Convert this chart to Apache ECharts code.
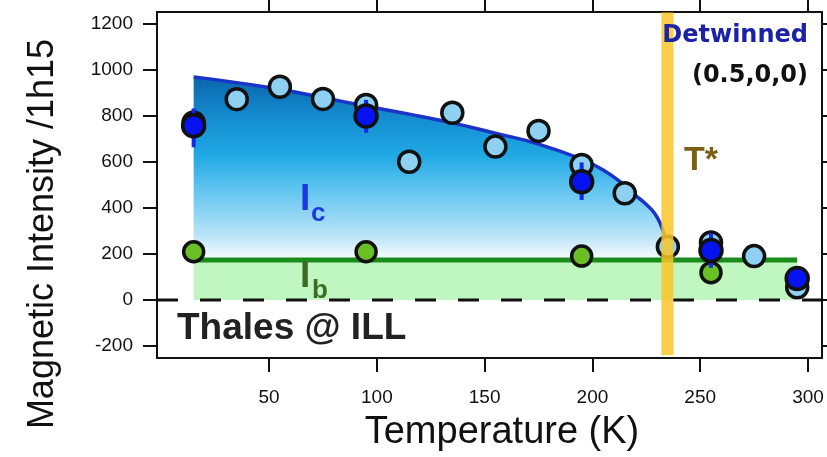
<!DOCTYPE html>
<html>
<head>
<meta charset="utf-8">
<script src="https://cdn.jsdelivr.net/npm/echarts@6/dist/echarts.min.js"></script>
<style>html,body{margin:0;padding:0;background:#fff}#chart{width:827px;height:457px}</style>
</head>
<body>
<div id="chart"></div>
<script>
// ---- data ----
const tempTicks = [50, 100, 150, 200, 250, 300];
const intensityTicks = [-200, 0, 200, 400, 600, 800, 1000, 1200];

// Ic order-parameter fit curve (T, intensity)
const icFitCurve = [[15, 970], [35, 945], [55, 916], [75, 880], [95, 843], [115, 808], [135, 770], [155, 725], [175, 678], [195, 612], [205, 565], [215, 498], [220, 455], [225, 415], [229, 375], [232, 320], [234, 260], [235, 190]];
// Ib constant level
const ibLevel = [[15, 174], [295, 174]];
// Ic open (light blue) points
const icOpen = [[15, 772], [35, 873], [55, 927], [75, 874], [95, 848], [115, 601], [135, 814], [155, 667], [175, 735], [195, 587], [215, 464], [235, 232], [255, 250], [275, 191], [295, 55]];
// Ic detwinned (blue) points and their error bars [T, low, high]
const icDetwinned = [[15, 758], [95, 800], [195, 514], [255, 215], [295, 94]];
const icErrors = [[15, 664, 833], [95, 727, 870], [195, 435, 598], [255, 140, 290], [295, 70, 120]];
// Ib (green) points
const ibPoints = [[15, 210], [95, 210], [195, 191], [255, 119]];
// T* marker and zero reference
const tStar = 234.8;
const tStarSpan = [[tStar, -240], [tStar, 1250]];
const zeroLine = [[-2, 0], [306.5, 0]];

const chart = echarts.init(document.getElementById('chart'), null, {renderer: 'canvas'});

const axisCommonX = {
  type: 'value', min: -2, max: 306.5,
  axisLine: {show: true, onZero: false, lineStyle: {color: '#111', width: 2}},
  axisTick: {show: true, inside: false, length: 14, customValues: tempTicks, lineStyle: {color: '#111', width: 2}},
  splitLine: {show: false}
};
const axisCommonY = {
  type: 'value', min: -252, max: 1252,
  axisLine: {show: true, onZero: false, lineStyle: {color: '#111', width: 2}},
  axisTick: {show: true, inside: false, length: 14, customValues: intensityTicks, lineStyle: {color: '#111', width: 2}},
  splitLine: {show: false}
};
const plain = function (v) { return String(v); };

const option = {
  animation: false,
  backgroundColor: '#fff',
  grid: {left: 157, right: 5, top: 12, bottom: 99, containLabel: false},
  xAxis: [
    Object.assign({}, axisCommonX, {position: 'bottom',
      axisLabel: {show: true, customValues: tempTicks, formatter: plain, margin: 30, fontSize: 19, color: '#111', fontFamily: 'Liberation Sans, Arial, sans-serif'}}),
    Object.assign({}, axisCommonX, {position: 'top', axisLabel: {show: false}})
  ],
  yAxis: [
    Object.assign({}, axisCommonY, {position: 'left',
      axisLabel: {show: true, customValues: intensityTicks, formatter: plain, margin: 24, fontSize: 19, color: '#111', fontFamily: 'Liberation Sans, Arial, sans-serif'}}),
    Object.assign({}, axisCommonY, {position: 'right', axisLabel: {show: false}})
  ],
  series: [
    {
      name: 'Ic fit', type: 'line', data: icFitCurve, showSymbol: false, smooth: true, z: 1,
      lineStyle: {color: '#1b34c8', width: 3.5},
      areaStyle: {
        opacity: 1,
        color: new echarts.graphic.LinearGradient(0, 0, 0, 1, [
          {offset: 0, color: '#0a66ad'},
          {offset: 0.2, color: '#1590d2'},
          {offset: 0.35, color: '#20a8e4'},
          {offset: 0.5, color: '#5ec4f0'},
          {offset: 0.7, color: '#b5e2f7'},
          {offset: 0.8, color: '#eef8fd'},
          {offset: 1, color: '#ffffff'}
        ])
      }
    },
    {
      name: 'Ib level', type: 'line', data: ibLevel, showSymbol: false, z: 2,
      lineStyle: {color: '#1a8c1a', width: 5},
      areaStyle: {color: '#c0f7c0', opacity: 1}
    },
    {
      name: 'zero', type: 'line', data: zeroLine, showSymbol: false, z: 3,
      lineStyle: {color: '#111', width: 3, type: [21, 22]}
    },
    {
      name: 'Ic', type: 'scatter', data: icOpen, z: 4, symbol: 'circle', symbolSize: 21,
      itemStyle: {color: '#8dd0f2', borderColor: '#111', borderWidth: 3.5, opacity: 1}
    },
    {
      name: 'Ib', type: 'scatter', data: ibPoints, z: 5, symbol: 'circle', symbolSize: 20,
      itemStyle: {color: '#6abf25', borderColor: '#111', borderWidth: 3.5, opacity: 1}
    },
    {
      name: 'err', type: 'custom', data: icErrors, z: 6,
      encode: {x: 0, y: [1, 2]},
      renderItem: function (params, api) {
        const x = api.value(0);
        const p1 = api.coord([x, api.value(1)]);
        const p2 = api.coord([x, api.value(2)]);
        return {type: 'line', shape: {x1: p1[0], y1: p1[1], x2: p2[0], y2: p2[1]}, style: {stroke: '#1428f0', lineWidth: 4}};
      }
    },
    {
      name: 'Ic detwinned', type: 'scatter', data: icDetwinned, z: 7, symbol: 'circle', symbolSize: 22,
      itemStyle: {color: '#0612f0', borderColor: '#111', borderWidth: 3.5, opacity: 1}
    },
    {
      name: 'T*', type: 'line', data: tStarSpan, showSymbol: false, z: 8,
      lineStyle: {color: 'rgba(250,198,40,0.85)', width: 12, cap: 'butt'}
    }
  ],
  graphic: [
    {type: 'text', z: 100, style: {text: 'Detwinned', x: 808, y: 36, align: 'right', verticalAlign: 'middle', font: 'bold 24px "DejaVu Sans"', fill: '#1c22a6'}},
    {type: 'text', z: 100, style: {text: '(0.5,0,0)', x: 808, y: 76, align: 'right', verticalAlign: 'middle', font: 'bold 24px "DejaVu Sans"', fill: '#111'}},
    {type: 'text', z: 100, style: {text: 'T*', x: 684, y: 161, align: 'left', verticalAlign: 'middle', font: 'bold 34px "Liberation Sans"', fill: '#7b5f12'}},
    {type: 'text', z: 100, style: {text: 'I', x: 300, y: 200, align: 'left', verticalAlign: 'middle', font: 'bold 37px "Liberation Sans"', fill: '#1a3ae0'}},
    {type: 'text', z: 100, style: {text: 'c', x: 311, y: 214, align: 'left', verticalAlign: 'middle', font: 'bold 26px "Liberation Sans"', fill: '#1a3ae0'}},
    {type: 'text', z: 100, style: {text: 'I', x: 300, y: 277, align: 'left', verticalAlign: 'middle', font: 'bold 37px "Liberation Sans"', fill: '#3c6b25'}},
    {type: 'text', z: 100, style: {text: 'b', x: 312, y: 291, align: 'left', verticalAlign: 'middle', font: 'bold 26px "Liberation Sans"', fill: '#3c6b25'}},
    {type: 'text', z: 100, style: {text: 'Thales @ ILL', x: 177, y: 329, align: 'left', verticalAlign: 'middle', font: 'bold 37px "Liberation Sans"', fill: '#222'}},
    {type: 'text', z: 100, style: {text: 'Temperature (K)', x: 502, y: 433, align: 'center', verticalAlign: 'middle', font: '38px "Liberation Sans"', fill: '#111'}},
    {type: 'text', z: 100, x: 43, y: 234, rotation: Math.PI / 2, style: {text: 'Magnetic Intensity /1h15', x: 0, y: 0, align: 'center', verticalAlign: 'middle', font: '36px "Liberation Sans"', fill: '#111'}}
  ]
};
chart.setOption(option);
</script>
</body>
</html>
